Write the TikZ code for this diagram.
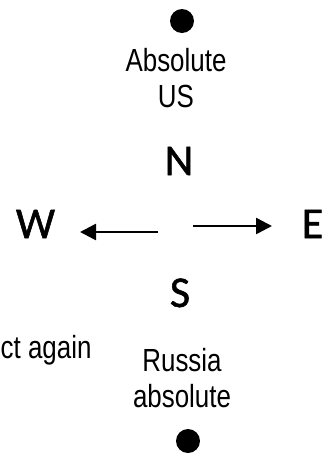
\documentclass[tikz,border=0pt]{standalone}
\usepackage{fontspec}
\setmainfont{Liberation Sans}
\newfontfamily\narrowfont[FakeStretch=0.81]{Liberation Sans}
\newfontfamily\compassfont[FakeBold=1.2]{Carlito}
\usetikzlibrary{arrows.meta}
\begin{document}
\begin{tikzpicture}[x=1pt,y=-1pt,
  lbl/.style={font=\narrowfont\fontsize{32}{36}\selectfont, inner sep=0pt, anchor=base, align=center},
  dir/.style={font=\compassfont\fontsize{44}{48}\selectfont, inner sep=0pt, anchor=base},
  dot/.style={circle, fill=black, inner sep=0pt, minimum size=24pt},
  arr/.style={line width=2.5pt, -{Triangle[length=16pt,width=16pt]}}]
\useasboundingbox (0,0) rectangle (336,456);
\clip (0,0) rectangle (336,456);
\node[dot] (topdot) at (182,21) {};
\node[lbl] (abs) at (176,71) {Absolute};
\node[lbl] (us) at (176,107) {US};
\node[dir] (N) at (179,175) {N};
\node[dir] (W) at (35.5,238) {W};
\node[dir] (E) at (312.5,238) {E};
\node[dir] (S) at (180,307) {S};
\node[lbl, anchor=base west] (again) at (0.5,358) {ct again};
\node[lbl] (rus) at (182,371) {Russia};
\node[lbl] (absl) at (182,407) {absolute};
\node[dot] (botdot) at (188,441) {};
\coordinate (lt) at (158,232);
\coordinate (lh) at (80,232);
\coordinate (rt) at (193,226);
\coordinate (rh) at (272,226);
\draw[arr] (lt) -- (lh);
\draw[arr] (rt) -- (rh);
\end{tikzpicture}
\end{document}
